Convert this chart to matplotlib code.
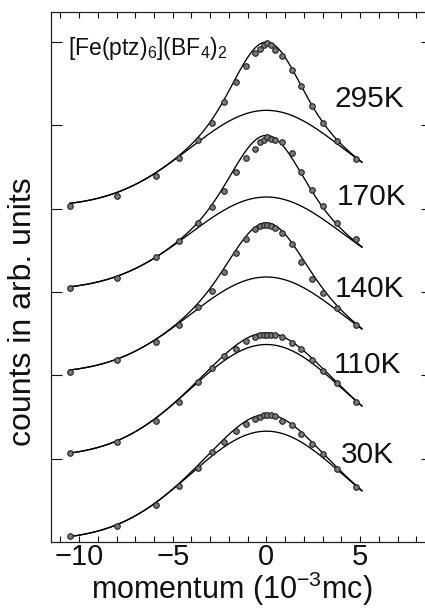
import numpy as np
import matplotlib
matplotlib.use("Agg")
import matplotlib.pyplot as plt
from matplotlib.ticker import MultipleLocator, FixedLocator

plt.rcParams['font.family'] = ['Liberation Sans', 'DejaVu Sans']
plt.rcParams['mathtext.fontset'] = 'custom'
plt.rcParams['mathtext.rm'] = 'Liberation Sans'
plt.rcParams['mathtext.it'] = 'Liberation Sans:italic'
plt.rcParams['mathtext.bf'] = 'Liberation Sans:bold'

# ---------------- data ----------------
temperatures = ['295K', '170K', '140K', '110K', '30K']
offsets = [4, 3, 2, 1, 0]

momentum = [-10.5, -7.95, -5.9, -4.65, -3.63, -2.9, -2.25, -1.6, -1.08, -0.6,
            -0.35, -0.15, 0.05, 0.25, 0.45,
            0.85, 1.36, 1.87, 2.45, 3.04, 3.79, 4.79]

counts_295K = [4.03, 4.15, 4.39, 4.61, 4.83, 5.03, 5.28, 5.52, 5.71, 5.87,
               5.92, 5.96, 5.99, 5.97, 5.91,
               5.83, 5.67, 5.47, 5.23, 5.03, 4.81, 4.60]
counts_170K = [3.05, 3.17, 3.42, 3.61, 3.83, 4.02, 4.21, 4.44, 4.61, 4.72,
               4.80, 4.83, 4.86, 4.84, 4.82,
               4.80, 4.67, 4.44, 4.23, 4.03, 3.83, 3.64]
counts_140K = [2.04, 2.18, 2.40, 2.60, 2.82, 3.01, 3.24, 3.47, 3.64, 3.76,
               3.79, 3.80, 3.81, 3.79, 3.77,
               3.71, 3.58, 3.36, 3.16, 2.99, 2.81, 2.60]
counts_110K = [1.07, 1.20, 1.45, 1.68, 1.92, 2.09, 2.23, 2.32, 2.41, 2.46,
               2.49, 2.49, 2.49, 2.49, 2.48,
               2.46, 2.39, 2.32, 2.18, 2.05, 1.91, 1.68]
counts_30K = [0.07, 0.19, 0.44, 0.67, 0.89, 1.08, 1.20, 1.33, 1.42, 1.48,
              1.50, 1.52, 1.53, 1.52, 1.51,
              1.45, 1.40, 1.30, 1.18, 1.06, 0.88, 0.66]

# fitted model components (broad + narrow Gaussian), parameters
broad_amp = [1.16, 1.12, 1.16, 1.35, 1.31]
broad_width = [4.1, 4.1, 4.1, 4.05, 4.05]
narrow_amp = [0.82, 0.74, 0.65, 0.14, 0.20]
narrow_width = [1.57, 1.65, 1.70, 1.85, 1.85]
background = 0.02
fit_range = [-10.5, 5.1]

label_pos_x = [3.66, 3.76, 3.66, 3.60, 3.98]
label_pos_y = [5.22, 4.05, 2.94, 2.03, 0.95]

x_ticklabels = ['\u221210', '\u22125', '0', '5']
x_ticks = [-10, -5, 0, 5]

all_counts = [counts_295K, counts_170K, counts_140K, counts_110K, counts_30K]

# ---------------- figure ----------------
W, H = 425, 612
fig = plt.figure(figsize=(W / 100, H / 100), dpi=100)
ax = fig.add_axes([51 / W, (H - 542) / H, (432 - 51) / W, (542 - 12) / H])

xf = np.linspace(fit_range[0], fit_range[1], 300)
for i, name in enumerate(temperatures):
    off = offsets[i]
    broad = broad_amp[i] * np.exp(-xf ** 2 / (2 * broad_width[i] ** 2))
    narrow = narrow_amp[i] * np.exp(-xf ** 2 / (2 * narrow_width[i] ** 2))
    ax.plot(xf, off + background + broad, color='black', lw=0.95, zorder=2)
    ax.plot(xf, off + background + broad + narrow, color='black', lw=0.95, zorder=2)
    ax.plot(momentum, all_counts[i], linestyle='none', marker='o', ms=4.0,
            mfc='#7a7a7a', mec='#222222', mew=0.8, zorder=3)
    ax.text(label_pos_x[i], label_pos_y[i], name, fontsize=21.5,
            ha='left', va='baseline', color='#111111')

ax.text(-10.6, 5.92, '[Fe(ptz)$_6$](BF$_4$)$_2$', fontsize=16.5,
        ha='left', va='center', color='#111111')

ax.set_xlim(-11.5, 8.84)
ax.set_ylim(0, 6.36)

ax.xaxis.set_major_locator(FixedLocator(x_ticks))
ax.set_xticklabels(x_ticklabels)
ax.xaxis.set_minor_locator(MultipleLocator(1))
ax.yaxis.set_major_locator(FixedLocator([1, 2, 3, 4, 5, 6]))
ax.set_yticklabels([])

ax.tick_params(axis='x', which='both', direction='in', top=True, bottom=True,
               length=4, width=0.8, labelsize=21, pad=1, colors='#111111')
ax.tick_params(axis='y', which='both', direction='in', left=True, right=True,
               length=8, width=0.8, colors='#111111')
for s in ax.spines.values():
    s.set_linewidth(0.9)
    s.set_color('#222222')

fig.text(23 / W, 1 - 312 / H, 'counts in arb. units', rotation=90,
         fontsize=23, ha='center', va='center', color='#111111')
fig.text(232 / W, 1 - 599 / H, 'momentum (10$^{\\mathregular{-3}}$mc)', fontsize=22,
         ha='center', va='baseline', color='#111111')

fig.savefig('out.png', dpi=100)
